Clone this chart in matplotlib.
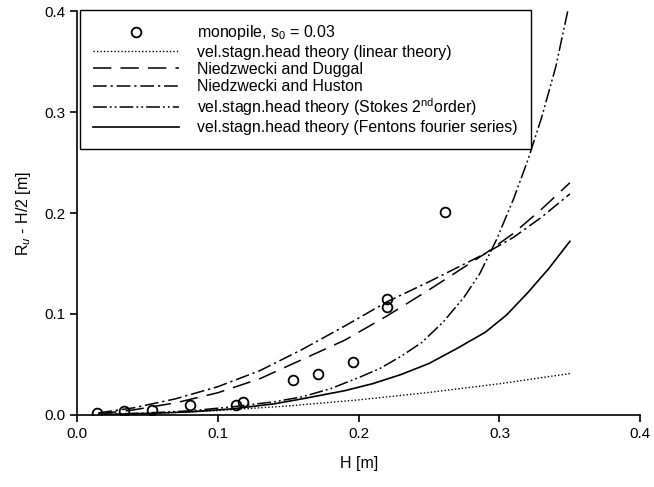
import matplotlib
matplotlib.use("Agg")
import matplotlib.pyplot as plt

plt.rcParams['font.family'] = ['Liberation Sans', 'DejaVu Sans']
plt.rcParams['mathtext.fontset'] = 'custom'
plt.rcParams['mathtext.rm'] = 'Liberation Sans'
plt.rcParams['mathtext.it'] = 'Liberation Sans:italic'

# measured run-up (monopile, s0 = 0.03)
h_meas = [0.014, 0.033, 0.053, 0.080, 0.113, 0.118, 0.153, 0.171, 0.196, 0.220, 0.220, 0.261]
r_meas = [0.002, 0.004, 0.005, 0.010, 0.010, 0.013, 0.035, 0.041, 0.052, 0.115, 0.107, 0.201]

# theory curves
h_lin = [0.015, 0.05, 0.1, 0.15, 0.2, 0.25, 0.3, 0.35]
r_lin = [0.00015, 0.0012, 0.0043, 0.0089, 0.0149, 0.0223, 0.0309, 0.041]

h_dug = [0.015, 0.04, 0.07, 0.1, 0.13, 0.16, 0.19, 0.22, 0.25, 0.27, 0.29, 0.31, 0.33, 0.35]
r_dug = [0.001, 0.005, 0.012, 0.022, 0.036, 0.055, 0.074, 0.098, 0.124, 0.142, 0.160, 0.180, 0.204, 0.230]

h_hus = [0.015, 0.04, 0.07, 0.1, 0.13, 0.16, 0.19, 0.22, 0.25, 0.27, 0.29, 0.31, 0.33, 0.35]
r_hus = [0.002, 0.007, 0.016, 0.028, 0.044, 0.065, 0.088, 0.112, 0.132, 0.146, 0.160, 0.176, 0.196, 0.219]

h_sto = [0.015, 0.05, 0.08, 0.11, 0.14, 0.16, 0.18, 0.2, 0.215, 0.23, 0.245, 0.26,
         0.275, 0.286, 0.298, 0.31, 0.32, 0.33, 0.34, 0.35]
r_sto = [0.0003, 0.002, 0.004, 0.008, 0.013, 0.018, 0.026, 0.037, 0.046, 0.058, 0.072, 0.092,
         0.117, 0.140, 0.174, 0.214, 0.252, 0.295, 0.345, 0.41]

h_fen = [0.015, 0.05, 0.08, 0.11, 0.14, 0.16, 0.19, 0.21, 0.23, 0.25, 0.27, 0.29,
         0.305, 0.32, 0.335, 0.35]
r_fen = [0.0002, 0.0015, 0.003, 0.006, 0.011, 0.016, 0.024, 0.031, 0.040, 0.051, 0.066, 0.082,
         0.099, 0.121, 0.145, 0.172]

fig = plt.figure(figsize=(6.54, 4.87), dpi=100)
ax = fig.add_axes([0.118, 0.148, 0.861, 0.829])

ax.plot(h_meas, r_meas, 'o', mfc='none', mec='black', ms=7, mew=1.3,
        label=r'monopile, s$_0$ = 0.03')
ax.plot(h_lin, r_lin, color='black', lw=1, dashes=(1, 1.5),
        label='vel.stagn.head theory (linear theory)')
ax.plot(h_dug, r_dug, color='black', lw=1.1, dashes=(12, 6),
        label='Niedzwecki and Duggal')
ax.plot(h_hus, r_hus, color='black', lw=1.1, dashes=(9, 2.5, 1.5, 2.5),
        label='Niedzwecki and Huston')
ax.plot(h_sto, r_sto, color='black', lw=1.1, dashes=(9, 2, 1.2, 2, 1.2, 2),
        label=r'vel.stagn.head theory (Stokes 2$^{\rm nd}$order)')
ax.plot(h_fen, r_fen, color='black', lw=1.2,
        label='vel.stagn.head theory (Fentons fourier series)')

ax.set_xlim(0, 0.4)
ax.set_ylim(0, 0.4)
ax.set_xticks([0.0, 0.1, 0.2, 0.3, 0.4])
ax.set_yticks([0.0, 0.1, 0.2, 0.3, 0.4])
ax.set_xticklabels(['0.0', '0.1', '0.2', '0.3', '0.4'])
ax.set_yticklabels(['0.0', '0.1', '0.2', '0.3', '0.4'])
ax.spines['top'].set_visible(False)
ax.spines['right'].set_visible(False)
ax.spines['left'].set_linewidth(1.2)
ax.spines['bottom'].set_linewidth(1.2)
ax.tick_params(direction='out', length=5, width=1.2, labelsize=11, colors='black')

ax.set_xlabel('H [m]', fontsize=11.5, labelpad=11)
ax.set_ylabel(r'R$_u$ - H/2 [m]', fontsize=11.5, labelpad=8)

leg = ax.legend(loc='upper left', bbox_to_anchor=(0.005, 1.003), fontsize=11.4,
                handlelength=5.4, handletextpad=1.15, labelspacing=0.14,
                borderpad=0.85, fancybox=False, framealpha=1, edgecolor='black',
                borderaxespad=0)
leg.get_frame().set_linewidth(1.0)

fig.savefig('out.png', dpi=100)
